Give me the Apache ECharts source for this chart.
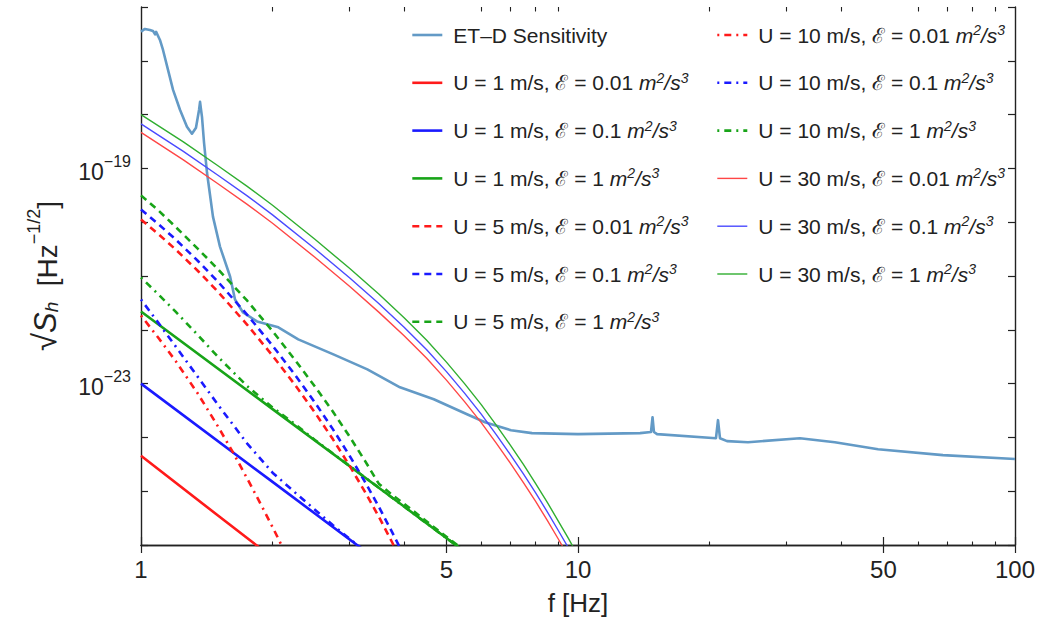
<!DOCTYPE html>
<html><head><meta charset="utf-8">
<script src="https://cdn.jsdelivr.net/npm/echarts@6/dist/echarts.min.js"></script>
<style>html,body{margin:0;padding:0;background:#fff}#c{width:1056px;height:621px}</style>
</head><body><div id="c"></div>
<script>
// ---------- tick values ----------
const xTickMajor = [1, 5, 10, 50, 100];
const xTickMinor = [2, 3, 4, 6, 7, 8, 9, 20, 30, 40, 60, 70, 80, 90];
const yTicks = [1e-26, 1e-25, 1e-24, 1e-23, 1e-22, 1e-21, 1e-20, 1e-19, 1e-18, 1e-17, 1e-16];
const yLabelTicks = [1e-23, 1e-19];

// ---------- series data: [f (Hz), sqrt(S_h) (Hz^-1/2)] ----------
const etd = [[1,3.48e-17],[1.021,3.91e-17],[1.048,3.74e-17],[1.065,3.59e-17],[1.077,3.1e-17],[1.083,3.45e-17],
  [1.105,2.44e-17],[1.123,1.59e-17],[1.153,6.78e-18],[1.184,2.88e-18],[1.228,1.23e-18],[1.274,5.94e-19],
  [1.308,4.41e-19],[1.336,5.69e-19],[1.358,1.23e-18],[1.365,1.73e-18],[1.372,1.23e-18],[1.379,9.1e-19],
  [1.394,3.0e-19],[1.416,8.3e-20],[1.461,1.27e-20],[1.516,3.52e-21],[1.599,9.8e-22],[1.641,3.66e-22],
  [1.712,2.10e-22],[1.843,1.43e-22],[2.062,1.11e-22],[2.29,6.64e-23],[2.756,3.5e-23],[3.296,1.84e-23],
  [3.914,8.53e-24],[4.677,5.12e-24],[5.572,2.69e-24],[6.126,1.91e-24],[7.025,1.36e-24],[7.847,1.20e-24],
  [10,1.15e-24],[13.87,1.20e-24],[14.69,1.26e-24],[14.81,2.37e-24],[14.92,1.26e-24],[15.17,1.15e-24],
  [20.69,9.66e-25],[20.91,2.09e-24],[21.13,9.66e-25],[21.93,8.51e-25],[24.49,8.13e-25],[32.2,9.66e-25],
  [38.7,8.13e-25],[48.6,6.03e-25],[68.4,4.68e-25],[100,3.98e-25]];

// U = 1 m/s (solid, thick)
const u1e001 = [[1,4.57e-25],[1.5,3.53e-26],[2,5.79e-27]];
const u1e01  = [[1,1.00e-23],[2,1.49e-25],[3.25,7.82e-27]];
const u1e1   = [[1,2.19e-22],[2,3.36e-24],[4,5.18e-26],[5.5,7.55e-27]];

// U = 5 m/s (dashed)
const u5e001 = [[1,1.12e-20],[1.1,5.86e-21],[1.2,3.12e-21],[1.35,1.24e-21],[1.5,5.11e-22],[1.75,1.24e-22],[2,3.30e-23],
  [2.25,9.51e-24],[2.5,2.90e-24],[2.75,9.20e-25],[3,2.99e-25],[3.25,9.91e-26],[3.5,3.37e-26],[3.75,1.15e-26],[4,4.07e-27]];
const u5e01  = [[1,1.72e-20],[1.1,9.0e-21],[1.2,4.79e-21],[1.35,1.90e-21],[1.5,7.84e-22],[1.75,1.90e-22],[2,5.07e-23],
  [2.25,1.46e-23],[2.5,4.45e-24],[2.75,1.41e-24],[3,4.59e-25],[3.25,1.52e-25],[3.5,5.17e-26],[3.75,1.77e-26],[4,6.25e-27]];
const u5e1   = [[1,3.15e-20],[1.1,1.61e-20],[1.2,8.19e-21],[1.35,3.19e-21],[1.5,1.34e-21],[1.75,3.47e-22],[2,9.44e-23],
  [2.25,2.77e-23],[2.5,8.83e-24],[2.75,2.99e-24],[3,1.04e-24],[3.25,3.74e-25],[3.5,1.38e-25],[3.75,8.61e-26],[4,5.85e-26],
  [4.5,2.76e-26],[5,1.42e-26],[5.5,7.82e-27]];

// U = 10 m/s (dash-dot)
const u10e001 = [[1,1.84e-22],[1.1,6.81e-23],[1.2,2.64e-23],[1.35,6.46e-24],[1.5,1.60e-24],[1.62,5.43e-25],[1.75,1.72e-25],
  [1.875,5.96e-26],[2,2.15e-26],[2.1,9.68e-27],[2.25,3.06e-27]];
const u10e01  = [[1,3.66e-22],[1.1,1.29e-22],[1.2,4.92e-23],[1.35,1.32e-23],[1.5,4.05e-24],[1.75,7.69e-25],[2,2.21e-25],
  [2.25,9.50e-26],[2.5,4.53e-26],[2.75,2.33e-26],[3,1.31e-26],[3.25,7.82e-27]];
const u10e1   = [[1,9.38e-22],[1.1,4.41e-22],[1.2,2.18e-22],[1.35,7.93e-23],[1.5,3.14e-23],[1.75,8.97e-24],[2,3.61e-24],
  [2.25,1.77e-24],[2.5,8.97e-25],[3,2.96e-25],[4,5.18e-26],[5,1.34e-26],[5.5,7.57e-27]];

// U = 30 m/s (solid, thin)
const u30f    = [1,1.25,1.5,1.75,2,2.5,3,3.5,4,4.5,5,5.5,6,6.5,7,7.5,8,8.5,9,9.5,10];
const u30e001 = [4.67e-19,1.44e-19,5.19e-20,2.14e-20,9.55e-21,2.23e-21,6.43e-22,2.13e-22,7.78e-23,2.98e-23,1.16e-23,
  4.62e-24,1.90e-24,7.82e-25,3.33e-25,1.45e-25,6.44e-26,2.90e-26,1.32e-26,6.21e-27,2.92e-27];
const u30e01  = [6.72e-19,2.07e-19,7.47e-20,3.08e-20,1.37e-20,3.21e-21,9.25e-22,3.07e-22,1.12e-22,4.29e-23,1.67e-23,
  6.65e-24,2.73e-24,1.13e-24,4.79e-25,2.09e-25,9.27e-26,4.17e-26,1.90e-26,8.94e-27,4.20e-27];
const u30e1   = [1.0e-18,3.11e-19,1.12e-19,4.63e-20,2.07e-20,4.82e-21,1.39e-21,4.61e-22,1.68e-22,6.44e-23,2.51e-23,
  9.99e-24,4.11e-24,1.69e-24,7.20e-25,3.14e-25,1.39e-25,6.27e-26,2.85e-26,1.34e-26,6.31e-27];
const pairs = (xs, ys) => xs.map((x, i) => [x, ys[i]]);

// ---------- legend labels ----------
const legendCol1 = ['ET\u2013D Sensitivity',
  'U = 1 m/s, \u2130 = 0.01', 'U = 1 m/s, \u2130 = 0.1', 'U = 1 m/s, \u2130 = 1',
  'U = 5 m/s, \u2130 = 0.01', 'U = 5 m/s, \u2130 = 0.1', 'U = 5 m/s, \u2130 = 1'];
const legendCol2 = ['U = 10 m/s, \u2130 = 0.01', 'U = 10 m/s, \u2130 = 0.1', 'U = 10 m/s, \u2130 = 1',
  'U = 30 m/s, \u2130 = 0.01', 'U = 30 m/s, \u2130 = 0.1', 'U = 30 m/s, \u2130 = 1'];

const FONT = '"Liberation Sans", Arial, Helvetica, sans-serif';
const C = {etd:'#639ac6', r:'#ff1a1a', b:'#1a1aff', g:'#18a418', rt:'#ff4646', bt:'#4a4aff', gt:'#30ae30'};
const DASH = [7, 5];
const DASHDOT = [2, 5, 7, 5];

const specs = [
  {name: legendCol1[0], data: etd, color: C.etd, width: 2.6, type: 'solid'},
  {name: legendCol1[1], data: u1e001, color: C.r, width: 2.6, type: 'solid'},
  {name: legendCol1[2], data: u1e01, color: C.b, width: 2.6, type: 'solid'},
  {name: legendCol1[3], data: u1e1, color: C.g, width: 2.6, type: 'solid'},
  {name: legendCol1[4], data: u5e001, color: C.r, width: 2.6, type: DASH},
  {name: legendCol1[5], data: u5e01, color: C.b, width: 2.6, type: DASH},
  {name: legendCol1[6], data: u5e1, color: C.g, width: 2.6, type: DASH},
  {name: legendCol2[0], data: u10e001, color: C.r, width: 2.6, type: DASHDOT},
  {name: legendCol2[1], data: u10e01, color: C.b, width: 2.6, type: DASHDOT},
  {name: legendCol2[2], data: u10e1, color: C.g, width: 2.6, type: DASHDOT},
  {name: legendCol2[3], data: pairs(u30f, u30e001), color: C.rt, width: 1.4, type: 'solid'},
  {name: legendCol2[4], data: pairs(u30f, u30e01), color: C.bt, width: 1.4, type: 'solid'},
  {name: legendCol2[5], data: pairs(u30f, u30e1), color: C.gt, width: 1.4, type: 'solid'}
];

const series = specs.map(s => ({
  name: s.name, type: 'line', xAxisIndex: 0, yAxisIndex: 0,
  data: s.data, symbol: 'none', showSymbol: false, smooth: false,
  clip: true, silent: true,
  lineStyle: {color: s.color, width: s.width, type: s.type, cap: 'butt', join: 'round'},
  itemStyle: {color: s.color}
}));

const legendRich = {
  i: {fontStyle: 'italic', fontSize: 21, fontFamily: FONT, color: '#222'},
  s: {fontStyle: 'italic', fontSize: 14, fontFamily: FONT, color: '#222', verticalAlign: 'top', lineHeight: 14},
  n: {fontSize: 21, fontFamily: FONT, color: '#222'}
};
const legendFmt = name => name.indexOf('U =') === 0
  ? '{n|' + name + ' }{i|m}{s|2}{i|/s}{s|3}'
  : '{n|' + name + '}';

const legendBase = {
  orient: 'vertical', top: 18, itemWidth: 30, itemHeight: 14, itemGap: 23.8,
  selectedMode: false, formatter: legendFmt,
  itemStyle: {opacity: 0},
  lineStyle: {width: 'inherit'},
  textStyle: {fontSize: 21, fontFamily: FONT, color: '#222', rich: legendRich, padding: [0, 0, 0, 6], lineHeight: 24}
};

const G = {left: 141, right: 41, top: 7, bottom: 75};
const lineCol = '#222';
const baseX = {type: 'log', logBase: 10, min: 1, max: 100, splitLine: {show: false}, minorTick: {show: false}, minorSplitLine: {show: false}};
const baseY = {type: 'log', logBase: 10, min: 1e-26, max: 1e-16, splitLine: {show: false}, minorTick: {show: false}, minorSplitLine: {show: false}};

const option = {
  animation: false,
  backgroundColor: '#fff',
  grid: [Object.assign({}, G), Object.assign({}, G)],
  legend: [
    Object.assign({}, legendBase, {left: 406, data: legendCol1}),
    Object.assign({}, legendBase, {left: 711, data: legendCol2})
  ],
  xAxis: [
    Object.assign({}, baseX, {gridIndex: 0, position: 'bottom',
      axisLine: {show: true, lineStyle: {color: lineCol, width: 1.4}},
      axisTick: {show: true, inside: true, length: 8, customValues: xTickMajor, lineStyle: {color: lineCol, width: 1.2}},
      axisLabel: {show: true, customValues: xTickMajor, fontSize: 24, fontFamily: FONT, color: '#222', margin: 12,
        formatter: v => String(Math.round(v))},
      name: 'f [Hz]', nameLocation: 'middle', nameGap: 45,
      nameTextStyle: {fontSize: 26, fontFamily: FONT, color: '#222'}}),
    Object.assign({}, baseX, {gridIndex: 0, position: 'top',
      axisLine: {show: true, lineStyle: {color: lineCol, width: 1.4}},
      axisTick: {show: true, inside: true, length: 8, customValues: xTickMajor, lineStyle: {color: lineCol, width: 1.2}},
      axisLabel: {show: false}}),
    Object.assign({}, baseX, {gridIndex: 1, position: 'bottom',
      axisLine: {show: false},
      axisTick: {show: true, inside: true, length: 4.5, customValues: xTickMinor, lineStyle: {color: lineCol, width: 1.1}},
      axisLabel: {show: false}}),
    Object.assign({}, baseX, {gridIndex: 1, position: 'top',
      axisLine: {show: false},
      axisTick: {show: true, inside: true, length: 4.5, customValues: xTickMinor, lineStyle: {color: lineCol, width: 1.1}},
      axisLabel: {show: false}})
  ],
  yAxis: [
    Object.assign({}, baseY, {gridIndex: 0, position: 'left',
      axisLine: {show: true, lineStyle: {color: lineCol, width: 1.4}},
      axisTick: {show: true, inside: true, length: 7, customValues: yTicks, lineStyle: {color: lineCol, width: 1.2}},
      axisLabel: {show: true, customValues: yLabelTicks, margin: 10, fontFamily: FONT, color: '#222',
        formatter: v => '{b|10}{s|\u2212' + Math.round(-Math.log10(v)) + '}',
        rich: {b: {fontSize: 23, fontFamily: FONT, color: '#222', lineHeight: 30, verticalAlign: 'bottom'},
               s: {fontSize: 16, fontFamily: FONT, color: '#222', lineHeight: 17, verticalAlign: 'top'}}},
      name: '{r|\u221A}{S|S}{h|h}  {t|[Hz}{s|\u22121/2}{t|]}', nameLocation: 'middle', nameRotate: 90, nameGap: 80,
      nameTextStyle: {fontFamily: FONT, color: '#222', fontSize: 28,
        rich: {r: {fontSize: 33, fontFamily: FONT, color: '#222', lineHeight: 36, verticalAlign: 'bottom'},
               S: {fontSize: 31, fontStyle: 'italic', fontFamily: FONT, color: '#222', lineHeight: 35, verticalAlign: 'bottom'},
               h: {fontSize: 19, fontStyle: 'italic', fontFamily: FONT, color: '#222', lineHeight: 26, verticalAlign: 'bottom'},
               t: {fontSize: 28, fontFamily: FONT, color: '#222', lineHeight: 35, verticalAlign: 'bottom'},
               s: {fontSize: 18, fontFamily: FONT, color: '#222', lineHeight: 19, verticalAlign: 'top'}}}}),
    Object.assign({}, baseY, {gridIndex: 0, position: 'right',
      axisLine: {show: true, lineStyle: {color: lineCol, width: 1.4}},
      axisTick: {show: true, inside: true, length: 7, customValues: yTicks, lineStyle: {color: lineCol, width: 1.2}},
      axisLabel: {show: false}}),
    Object.assign({}, baseY, {gridIndex: 1, show: false})
  ],
  series: series
};

const chart = echarts.init(document.getElementById('c'), null, {renderer: 'svg', width: 1056, height: 621});
chart.setOption(option);
</script>
</body></html>
